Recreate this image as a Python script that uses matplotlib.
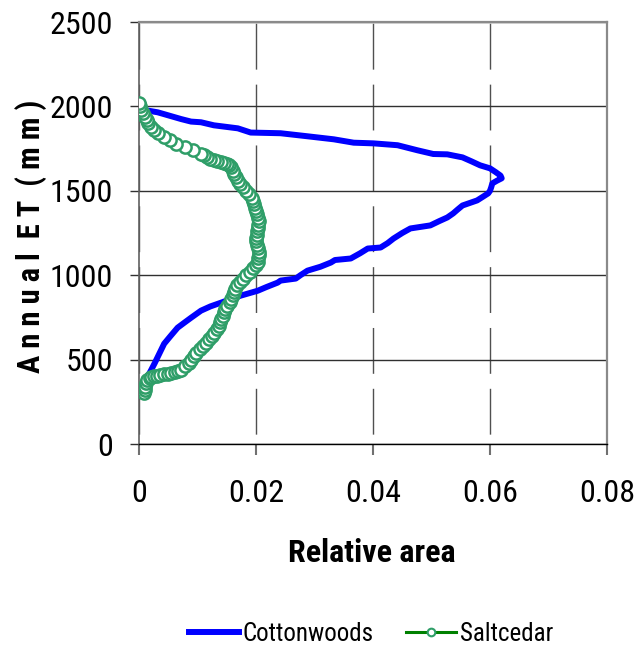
import matplotlib
matplotlib.use("Agg")
import matplotlib.pyplot as plt
from matplotlib import font_manager
from matplotlib.lines import Line2D
from matplotlib.ticker import FuncFormatter

# ---------------- data ----------------
cw_et = [297, 340, 390, 433, 480, 530, 594, 640, 689, 720, 748, 790, 815, 837,
         860, 879, 895, 908, 930, 956, 968, 980, 1000, 1027, 1050, 1075, 1090,
         1099, 1130, 1158, 1164, 1190, 1217, 1250, 1277, 1295, 1320, 1342, 1366,
         1390, 1413, 1443, 1465, 1485, 1500, 1520, 1544, 1560, 1574, 1590, 1610,
         1633, 1651, 1675, 1698, 1716, 1718, 1740, 1770, 1781, 1785, 1805, 1823,
         1841, 1845, 1870, 1888, 1906, 1910, 1925, 1942, 1965, 1977, 1989]
cw_area = [0.0003, 0.0008, 0.0013, 0.0020, 0.0027, 0.0034, 0.0043, 0.0054,
           0.0066, 0.0078, 0.0089, 0.0106, 0.0122, 0.0140, 0.0158, 0.0174,
           0.0190, 0.0203, 0.0218, 0.0237, 0.0242, 0.0268, 0.0276, 0.0288,
           0.0310, 0.0328, 0.0335, 0.0362, 0.0378, 0.0391, 0.0413, 0.0425,
           0.0435, 0.0450, 0.0464, 0.0498, 0.0513, 0.0527, 0.0537, 0.0545,
           0.0553, 0.0578, 0.0588, 0.0597, 0.0600, 0.0602, 0.0604, 0.0612,
           0.0620, 0.0618, 0.0610, 0.0600, 0.0583, 0.0568, 0.0553, 0.0527,
           0.0503, 0.0476, 0.0442, 0.0401, 0.0367, 0.0333, 0.0288, 0.0242,
           0.0191, 0.0169, 0.0128, 0.0106, 0.0089, 0.0072, 0.0055, 0.0032,
           0.0012, 0.0003]

sc_et = [300, 320, 340, 360, 380, 390, 395, 400, 404, 408, 412, 416, 420, 425,
         430, 440, 460, 480, 500, 520, 540, 560,
         580, 600, 620, 640, 660, 680, 700, 720, 740, 760, 780, 800, 820, 840,
         860, 880, 900, 920, 940, 960, 980, 1000, 1020, 1040, 1060, 1080, 1100,
         1120, 1140, 1160, 1180, 1200, 1220, 1240, 1260, 1280, 1300, 1320, 1340,
         1360, 1380, 1400, 1420, 1440, 1460, 1480, 1500, 1520, 1540, 1560, 1580,
         1600, 1620, 1640, 1650, 1660, 1665, 1670, 1675, 1680, 1690, 1700, 1710,
         1720, 1740, 1760, 1780, 1800, 1820,
         1840, 1860, 1880, 1900, 1920, 1940, 1960, 1980, 2000, 2020]
sc_area = [0.0009, 0.0010, 0.0011, 0.0012, 0.0014, 0.0018, 0.0021, 0.0025,
           0.0030, 0.0036, 0.0043, 0.0049, 0.0055, 0.0061, 0.0066, 0.0071,
           0.0078, 0.0085, 0.0089, 0.0094, 0.0098, 0.0104, 0.0110, 0.0115,
           0.0120, 0.0125, 0.0129, 0.0133, 0.0136, 0.0139, 0.0141, 0.0143,
           0.0145, 0.0147, 0.0151, 0.0155, 0.0158, 0.0160, 0.0162, 0.0164,
           0.0168, 0.0172, 0.0177, 0.0183, 0.0189, 0.0195, 0.0200, 0.0203,
           0.0204, 0.0205, 0.0205, 0.0203, 0.0201, 0.0200, 0.0200, 0.0201,
           0.0202, 0.0203, 0.0204, 0.0205, 0.0204, 0.0202, 0.0200, 0.0199,
           0.0197, 0.0195, 0.0193, 0.0188, 0.0183, 0.0178, 0.0173, 0.0169,
           0.0166, 0.0163, 0.0160, 0.0157, 0.0154, 0.0150, 0.0145, 0.0140,
           0.0134, 0.0128, 0.0122, 0.0116, 0.0111, 0.0106, 0.0092, 0.0078,
           0.0064, 0.0053, 0.0042, 0.0033, 0.0025, 0.0020, 0.0016, 0.0013,
           0.0010, 0.0006, 0.0003, 0.0001, 0.0000]

x_ticks = [0, 0.02, 0.04, 0.06, 0.08]
y_ticks = [0, 500, 1000, 1500, 2000, 2500]
series_names = ["Cottonwoods", "Saltcedar"]
x_label = "Relative area"
y_label = "A n n u a l  E T  ( m m )"

# ---------------- fonts ----------------
names = {f.name for f in font_manager.fontManager.ttflist}
if "Roboto Condensed" in names:
    FAM = ["Roboto Condensed", "DejaVu Sans"]
    sc = 1.0
else:
    FAM = ["Liberation Sans", "DejaVu Sans"]
    sc = 0.82
plt.rcParams["font.family"] = FAM

# ---------------- figure ----------------
fig = plt.figure(figsize=(6.39, 6.46), dpi=100)
ax = fig.add_axes([139 / 639, 1 - 444 / 646, 468 / 639, 422 / 646])

ax.plot(cw_area, cw_et, color="#0000FF", lw=4.3, solid_capstyle="round",
        solid_joinstyle="round", zorder=3)
ax.plot(sc_area, sc_et, color="#008000", lw=1.2, marker="o", ms=8.8,
        mfc="white", mec="#2f9e68", mew=1.8, zorder=4)

ax.set_xlim(0, 0.08)
ax.set_ylim(0, 2500)
ax.set_xticks(x_ticks)
ax.set_yticks(y_ticks)
ax.xaxis.set_major_formatter(FuncFormatter(lambda v, p: "0" if v == 0 else f"{v:.2f}"))

ax.grid(axis="y", color="#303030", lw=1.0, zorder=1)
ax.grid(axis="x", color="#505050", lw=1.0, linestyle=(36.7, (33, 10.8)), zorder=1)
ax.set_axisbelow(True)

for s in ["top", "right"]:
    ax.spines[s].set_color("#8a8a8a")
    ax.spines[s].set_linewidth(1.6)
ax.spines["left"].set_color("#606060")
ax.spines["left"].set_linewidth(1.2)
ax.spines["bottom"].set_color("#000000")
ax.spines["bottom"].set_linewidth(1.0)

ax.tick_params(axis="y", direction="out", length=6.5, width=1, color="#303030",
               pad=12, labelsize=23 * sc)
ax.tick_params(axis="x", direction="out", length=8, width=1.5, color="#707070",
               pad=17, labelsize=23 * sc)

fig.text(31 / 639, 1 - 236 / 646, y_label, rotation=90, ha="center", va="center",
         fontsize=22 * sc, fontweight="bold")
fig.text(372 / 639, 1 - 553 / 646, x_label, ha="center", va="center",
         fontsize=23 * sc, fontweight="bold")

handles = [Line2D([], [], color="#0000FF", lw=4.3),
           Line2D([], [], color="#008000", lw=2.2, marker="o", ms=5.5,
                  mfc="white", mec="#2f9e68", mew=1.5)]
fig.legend(handles, series_names, loc="center", bbox_to_anchor=(371 / 639, 1 - 634 / 646),
           ncol=2, frameon=False, fontsize=18 * sc, handlelength=2.0,
           handletextpad=0.15, columnspacing=1.3, borderaxespad=0, borderpad=0)

fig.savefig("out.png", dpi=100)
